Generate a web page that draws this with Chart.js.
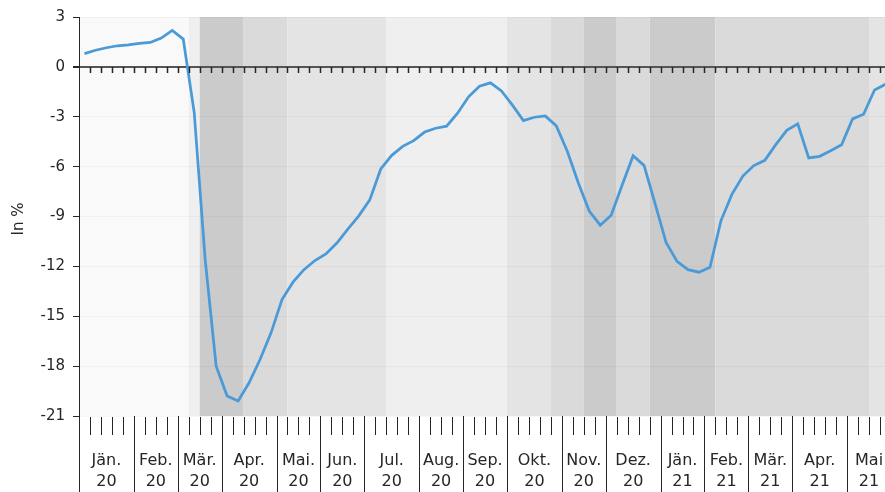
<!DOCTYPE html>
<html>
<head>
<meta charset="utf-8">
<script src="https://cdn.jsdelivr.net/npm/chart.js@4.4.1/dist/chart.umd.min.js"></script>
<style>
    html, body { margin: 0; padding: 0; overflow: hidden; background: #fff; }
    #wrap { width: 891px; height: 492px; }
</style>
</head>
<body>
<div id="wrap"><canvas id="chart"></canvas></div>
<script>
// Month labels (two lines) and number of calendar weeks per month
const months = ['Jän.', 'Feb.', 'Mär.', 'Apr.', 'Mai.', 'Jun.', 'Jul.', 'Aug.', 'Sep.', 'Okt.', 'Nov.', 'Dez.',
                'Jän.', 'Feb.', 'Mär.', 'Apr.', 'Mai'];
const years = ['20', '20', '20', '20', '20', '20', '20', '20', '20', '20', '20', '20',
               '21', '21', '21', '21', '21'];
const weeksPerMonth = [5, 4, 4, 5, 4, 4, 5, 4, 4, 5, 4, 5, 4, 4, 4, 5, 4];

// Weekly change, in %
const values = [
    0.8, 1.0, 1.15, 1.27, 1.33, 1.41, 1.47, 1.73, 2.19, 1.67,
    -2.75, -11.6, -18.0, -19.8, -20.1, -19.0, -17.6, -16.0, -14.0, -12.95,
    -12.2, -11.65, -11.25, -10.6, -9.76, -8.96, -8.0, -6.14, -5.32, -4.78,
    -4.44, -3.92, -3.69, -3.57, -2.79, -1.8, -1.16, -0.96, -1.45, -2.3,
    -3.23, -3.03, -2.95, -3.55, -5.08, -6.97, -8.67, -9.52, -8.92, -7.11,
    -5.34, -5.94, -8.23, -10.56, -11.7, -12.2, -12.35, -12.05, -9.26, -7.67,
    -6.57, -5.94, -5.62, -4.68, -3.82, -3.43, -5.48, -5.38, -5.04, -4.68,
    -3.13, -2.85, -1.39, -1.04
];

// Shaded phases: [first week, end week)
const phases = [[0, 10], [10, 11], [11, 15], [15, 19], [19, 28], [28, 39], [39, 43],
                [43, 46], [46, 49], [49, 52], [52, 58], [58, 72], [72, 74]];
const phaseShades = ['#f9f9f9', '#efefef', '#cbcbcb', '#dadada', '#e4e4e4', '#efefef', '#e4e4e4',
                     '#dadada', '#cbcbcb', '#dadada', '#cbcbcb', '#dadada', '#e4e4e4'];

const weekLabels = [];
months.forEach((m, i) => {
    for (let w = 1; w <= weeksPerMonth[i]; w++) weekLabels.push(m + ' ' + years[i] + ' W' + w);
});

const FONT = "'DejaVu Sans', sans-serif";
const INK = '#262626';

const decor = {
    id: 'decor',
    beforeDraw(chart) {
        const { ctx, chartArea: a, scales: { x } } = chart;
        const edge = k => x.getPixelForValue(k - 0.5);
        ctx.save();
        phases.forEach(([s, e], i) => {
            const x0 = edge(s), x1 = edge(e);
            ctx.fillStyle = phaseShades[i];
            ctx.fillRect(x0, a.top, x1 - x0, a.bottom - a.top);
        });
        ctx.restore();
    },
    afterDraw(chart) {
        const { ctx, chartArea: a, scales: { x, y } } = chart;
        const H = chart.height;
        const edge = k => Math.round(x.getPixelForValue(k - 0.5)) + 0.5;
        const y0 = Math.round(y.getPixelForValue(0));
        ctx.save();
        ctx.strokeStyle = INK;

        // small ticks under the zero line
        ctx.lineWidth = 1.5;
        ctx.beginPath();
        for (let k = 1; k <= values.length; k++) {
            ctx.moveTo(edge(k), y0);
            ctx.lineTo(edge(k), y0 + 6);
        }
        ctx.stroke();

        // week ticks below the plot
        ctx.lineWidth = 1;
        ctx.beginPath();
        for (let k = 1; k <= values.length; k++) {
            ctx.moveTo(edge(k), a.bottom + 1);
            ctx.lineTo(edge(k), a.bottom + 19);
        }
        ctx.stroke();

        // month separators and labels
        let start = 0;
        ctx.beginPath();
        ctx.moveTo(Math.round(a.left) + 0.5, a.top);
        ctx.lineTo(Math.round(a.left) + 0.5, H);
        weeksPerMonth.forEach(n => {
            const e = edge(start + n);
            ctx.moveTo(e, a.bottom);
            ctx.lineTo(e, H);
            start += n;
        });
        ctx.stroke();

        ctx.fillStyle = INK;
        ctx.font = '16px ' + FONT;
        ctx.textAlign = 'center';
        ctx.textBaseline = 'middle';
        start = 0;
        months.forEach((m, i) => {
            const cx = (x.getPixelForValue(start - 0.5) + x.getPixelForValue(start + weeksPerMonth[i] - 0.5)) / 2;
            ctx.fillText(m, cx, 461);
            ctx.fillText(years[i], cx, 482);
            start += weeksPerMonth[i];
        });

        // y axis title
        ctx.font = '15px ' + FONT;
        ctx.translate(19, 219);
        ctx.rotate(-Math.PI / 2);
        ctx.fillText('In %', 0, 0);
        ctx.restore();
    }
};

new Chart(document.getElementById('chart'), {
    type: 'line',
    data: {
        labels: weekLabels,
        datasets: [{
            data: values,
            borderColor: '#4a9ad8',
            borderWidth: 2.75,
            pointRadius: 0,
            tension: 0,
            fill: false
        }]
    },
    options: {
        responsive: true,
        maintainAspectRatio: false,
        animation: false,
        layout: { padding: { top: 17, right: 0, bottom: 76, left: 0 } },
        plugins: { legend: { display: false }, tooltip: { enabled: false } },
        scales: {
            x: { display: false, offset: true },
            y: {
                min: -21,
                max: 3,
                afterFit: s => { s.width = 79; },
                ticks: { stepSize: 3, color: INK, padding: 8, font: { family: FONT, size: 15 } },
                grid: {
                    color: c => c.tick.value === 0 ? '#555' : 'rgba(0,0,0,0.035)',
                    lineWidth: c => c.tick.value === 0 ? 2 : 1,
                    tickColor: INK,
                    tickLength: 6
                },
                border: { display: true, color: INK, width: 1 }
            }
        }
    },
    plugins: [decor]
});
</script>
</body>
</html>
